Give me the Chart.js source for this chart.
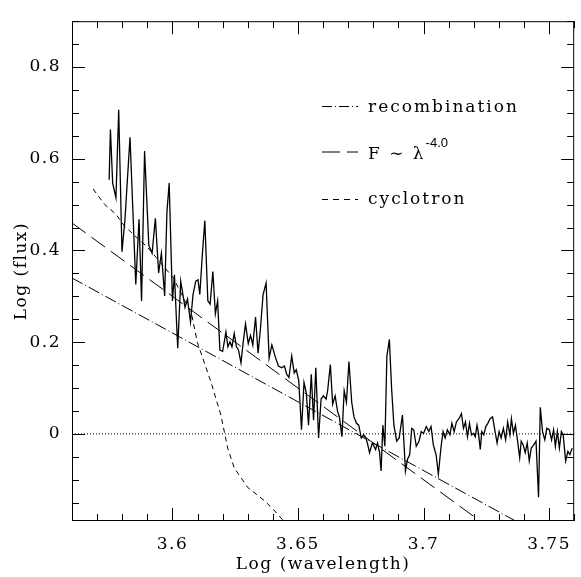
<!DOCTYPE html>
<html>
<head>
<meta charset="utf-8">
<script src="https://cdn.jsdelivr.net/npm/chart.js@4.4.1/dist/chart.umd.min.js"></script>
<style>
  html, body { margin: 0; padding: 0; background: #fff; }
  #wrap { width: 581px; height: 577px; }
</style>
</head>
<body>
<div id="wrap"><canvas id="spectrum" width="581" height="577"></canvas></div>
<script>
// Axis limits and labelled ticks
const xRange = [3.56, 3.76];
const yRange = [-0.19, 0.9];
const xTicks = [3.6, 3.65, 3.7, 3.75];
const yTicks = [0, 0.2, 0.4, 0.6, 0.8];

// Observed spectrum: log wavelength / log flux
const specX = [
  3.5748, 3.5753, 3.5762, 3.5775, 3.5786, 3.5799, 3.5811, 3.5831, 3.5854, 3.5867,
  3.5877, 3.5889, 3.5906, 3.5919, 3.5932, 3.5945, 3.5956, 3.5969, 3.5978, 3.5987,
  3.6000, 3.6008, 3.6021, 3.6033, 3.6050, 3.6060, 3.6072, 3.6082, 3.6093, 3.6102,
  3.6109, 3.6119, 3.6129, 3.6141, 3.6150, 3.6161, 3.6171, 3.6180, 3.6189, 3.6200,
  3.6213, 3.6221, 3.6229, 3.6237, 3.6246, 3.6255, 3.6263, 3.6273, 3.6282, 3.6291,
  3.6302, 3.6311, 3.6320, 3.6331, 3.6341, 3.6350, 3.6361, 3.6373, 3.6385, 3.6396,
  3.6409, 3.6422, 3.6435, 3.6446, 3.6455, 3.6464, 3.6475, 3.6485, 3.6493, 3.6503,
  3.6514, 3.6524, 3.6533, 3.6542, 3.6553, 3.6562, 3.6571, 3.6582, 3.6592, 3.6601,
  3.6612, 3.6618, 3.6629, 3.6638, 3.6648, 3.6658, 3.6665, 3.6675, 3.6684, 3.6693,
  3.6703, 3.6714, 3.6723, 3.6733, 3.6742, 3.6752, 3.6762, 3.6771, 3.6778, 3.6785,
  3.6796, 3.6809, 3.6817, 3.6825, 3.6831, 3.6838, 3.6846, 3.6854, 3.6864, 3.6873,
  3.6882, 3.6893, 3.6903, 3.6916, 3.6928, 3.6936, 3.6945, 3.6953, 3.6961, 3.6971,
  3.6982, 3.6991, 3.7000, 3.7011, 3.7021, 3.7030, 3.7039, 3.7050, 3.7059, 3.7070,
  3.7078, 3.7086, 3.7095, 3.7105, 3.7113, 3.7122, 3.7131, 3.7141, 3.7151, 3.7159,
  3.7167, 3.7175, 3.7183, 3.7191, 3.7199, 3.7206, 3.7213, 3.7219, 3.7226, 3.7232,
  3.7240, 3.7248, 3.7256, 3.7265, 3.7275, 3.7285, 3.7293, 3.7301, 3.7309, 3.7318,
  3.7327, 3.7335, 3.7344, 3.7350, 3.7358, 3.7366, 3.7374, 3.7383, 3.7389, 3.7397,
  3.7405, 3.7413, 3.7421, 3.7429, 3.7439, 3.7448, 3.7458, 3.7465, 3.7474, 3.7483,
  3.7491, 3.7501, 3.7510, 3.7518, 3.7525, 3.7533, 3.7541, 3.7549, 3.7556, 3.7566,
  3.7575, 3.7583, 3.7592
];
const specY = [
  0.554, 0.664, 0.547, 0.515, 0.707, 0.397, 0.468, 0.647, 0.326, 0.468,
  0.290, 0.617, 0.411, 0.394, 0.470, 0.351, 0.394, 0.301, 0.483, 0.547,
  0.290, 0.347, 0.187, 0.333, 0.276, 0.294, 0.244, 0.304, 0.333, 0.336,
  0.304, 0.390, 0.465, 0.290, 0.283, 0.354, 0.262, 0.290, 0.183, 0.180,
  0.222, 0.190, 0.201, 0.190, 0.219, 0.190, 0.183, 0.155, 0.201, 0.240,
  0.197, 0.215, 0.194, 0.255, 0.176, 0.226, 0.304, 0.329, 0.165, 0.194,
  0.169, 0.148, 0.144, 0.148, 0.130, 0.123, 0.170, 0.133, 0.140, 0.116,
  0.009, 0.112, 0.090, 0.019, 0.130, 0.030, 0.144, -0.009, 0.076, 0.083,
  0.076, 0.094, 0.151, 0.065, 0.083, 0.048, 0.037, -0.006, 0.094, 0.069,
  0.158, 0.069, 0.037, 0.023, 0.019, -0.009, -0.002, -0.009, -0.024, -0.041,
  -0.020, -0.034, -0.020, -0.041, -0.081, 0.019, -0.027, 0.169, 0.206, 0.098,
  0.019, -0.016, -0.009, 0.041, -0.081, -0.056, -0.045, 0.012, 0.009, -0.027,
  -0.016, 0.005, 0.001, 0.016, 0.005, 0.016, -0.024, -0.045, -0.088, -0.027,
  0.005, -0.009, 0.009, -0.002, 0.023, 0.005, 0.026, 0.033, 0.044, 0.012,
  0.026, -0.006, 0.023, -0.002, 0.001, -0.006, 0.019, 0.001, -0.034, 0.005,
  -0.002, 0.016, 0.023, 0.033, 0.037, 0.005, -0.020, 0.005, -0.009, 0.012,
  -0.013, 0.026, -0.002, 0.033, 0.001, 0.019, -0.013, -0.052, -0.016, -0.024,
  -0.041, -0.020, -0.059, -0.031, -0.024, -0.016, -0.138, 0.058, 0.005, -0.013,
  0.012, 0.009, -0.013, 0.009, -0.027, 0.005, -0.031, 0.005, -0.002, -0.059,
  -0.038, -0.045, -0.031
];

// Cyclotron model
const cycX = [3.5684, 3.5729, 3.5775, 3.5808, 3.5860, 3.5899, 3.5938, 3.6004, 3.6043, 3.6076,
              3.6099, 3.6154, 3.6193, 3.6220, 3.6246, 3.6300, 3.6365, 3.6404, 3.6443];
const cycY = [0.534, 0.501, 0.479, 0.454, 0.427, 0.408, 0.383, 0.340, 0.297, 0.262,
              0.200, 0.112, 0.041, -0.031, -0.074, -0.117, -0.145, -0.166, -0.190];

// Power law F ~ lambda^-4 and recombination (straight lines, end points)
const powX = [3.56, 3.76];
const powY = [0.46, -0.34];
const recX = [3.56, 3.76];
const recY = [0.34, -0.26];

// Zero level
const zeroX = [3.56, 3.76];
const zeroY = [0, 0];

const SERIF = '"DejaVu Serif", serif';

function pairs(xs, ys) {
  return xs.map((x, i) => ({ x: x, y: ys[i] }));
}

function fmt(v) {
  return String(Number(v.toFixed(2)));
}

// inward ticks on all four sides plus the frame
const frameTicks = {
  id: 'frameTicks',
  beforeDraw(chart) {
    chart.ctx.letterSpacing = '1.5px';
  },
  afterDraw(chart) {
    const { ctx, chartArea: a, scales: { x, y } } = chart;
    ctx.save();
    ctx.strokeStyle = '#000';
    ctx.lineWidth = 1;
    ctx.setLineDash([]);
    ctx.strokeRect(a.left + 0.5, a.top + 0.5, a.right - a.left - 1, a.bottom - a.top - 1);
    ctx.beginPath();
    for (let k = 356; k <= 376; k++) {
      const px = Math.round(x.getPixelForValue(k / 100)) + 0.5;
      const len = k % 5 === 0 ? 13 : 7;
      ctx.moveTo(px, a.bottom); ctx.lineTo(px, a.bottom - len);
      ctx.moveTo(px, a.top); ctx.lineTo(px, a.top + len);
    }
    for (let k = -3; k <= 18; k++) {
      const py = Math.round(y.getPixelForValue(k * 0.05)) + 0.5;
      const len = k % 4 === 0 ? 13 : 7;
      ctx.moveTo(a.left, py); ctx.lineTo(a.left + len, py);
      ctx.moveTo(a.right, py); ctx.lineTo(a.right - len, py);
    }
    ctx.stroke();
    ctx.restore();
  }
};

// legend with line samples
const legendBox = {
  id: 'legendBox',
  afterDraw(chart) {
    const ctx = chart.ctx;
    const rows = [
      { y: 106, dash: [10, 3, 1, 3], text: 'recombination', base: 112 },
      { y: 151.5, dash: [18, 7], text: 'F \u223C \u03BB', base: 159, sup: '-4.0' },
      { y: 199, dash: [6, 5], text: 'cyclotron', base: 204 }
    ];
    ctx.save();
    ctx.strokeStyle = '#000';
    ctx.fillStyle = '#000';
    ctx.lineWidth = 1;
    rows.forEach(r => {
      ctx.setLineDash(r.dash);
      ctx.beginPath();
      ctx.moveTo(322, r.y + 0.5);
      ctx.lineTo(358, r.y + 0.5);
      ctx.stroke();
      ctx.setLineDash([]);
      ctx.font = '17px ' + SERIF;
      ctx.letterSpacing = '2px';
      ctx.textAlign = 'left';
      ctx.textBaseline = 'alphabetic';
      ctx.fillText(r.text, 368, r.base);
      if (r.sup) {
        const w = ctx.measureText(r.text).width;
        ctx.font = '13px "Liberation Sans", sans-serif';
        ctx.letterSpacing = '0px';
        ctx.fillText(r.sup, 368 + w, 146.5);
      }
    });
    ctx.restore();
  }
};

const lineStyle = { borderColor: '#000', pointRadius: 0, tension: 0, fill: false };

new Chart(document.getElementById('spectrum').getContext('2d'), {
  type: 'line',
  data: {
    datasets: [
      Object.assign({ label: 'spectrum', data: pairs(specX, specY), borderWidth: 1.3 }, lineStyle),
      Object.assign({ label: 'cyclotron', data: pairs(cycX, cycY), borderWidth: 1, borderDash: [5, 4] }, lineStyle),
      Object.assign({ label: 'power law', data: pairs(powX, powY), borderWidth: 1, borderDash: [17, 7] }, lineStyle),
      Object.assign({ label: 'recombination', data: pairs(recX, recY), borderWidth: 1, borderDash: [12, 3, 1, 3] }, lineStyle),
      Object.assign({ label: 'zero', data: pairs(zeroX, zeroY), borderWidth: 1, borderDash: [1, 2] }, lineStyle)
    ]
  },
  options: {
    responsive: false,
    animation: false,
    devicePixelRatio: 1,
    layout: { padding: { top: 11, right: 0, left: 0, bottom: 0 } },
    plugins: { legend: { display: false }, tooltip: { enabled: false } },
    scales: {
      x: {
        type: 'linear',
        min: xRange[0],
        max: xRange[1],
        grid: { display: false, drawTicks: false },
        border: { display: false },
        afterBuildTicks: s => { s.ticks = xTicks.map(v => ({ value: v })); },
        afterFit: s => { s.height = 56; },
        ticks: {
          padding: 13,
          color: '#000',
          maxRotation: 0,
          font: { family: SERIF, size: 17 },
          callback: v => fmt(v)
        },
        title: {
          display: true,
          text: 'Log (wavelength)',
          color: '#000',
          font: { family: SERIF, size: 17 },
          padding: { top: 0, bottom: 2 }
        }
      },
      y: {
        type: 'linear',
        min: yRange[0],
        max: yRange[1],
        grid: { display: false, drawTicks: false },
        border: { display: false },
        afterBuildTicks: s => { s.ticks = yTicks.map(v => ({ value: v })); },
        afterFit: s => { s.width = 72; },
        ticks: {
          padding: 11,
          color: '#000',
          font: { family: SERIF, size: 17 },
          callback: v => fmt(v)
        },
        title: {
          display: true,
          text: 'Log (flux)',
          color: '#000',
          font: { family: SERIF, size: 17 },
          padding: { top: 11, bottom: 0 }
        }
      }
    }
  },
  plugins: [frameTicks, legendBox]
});
</script>
</body>
</html>
